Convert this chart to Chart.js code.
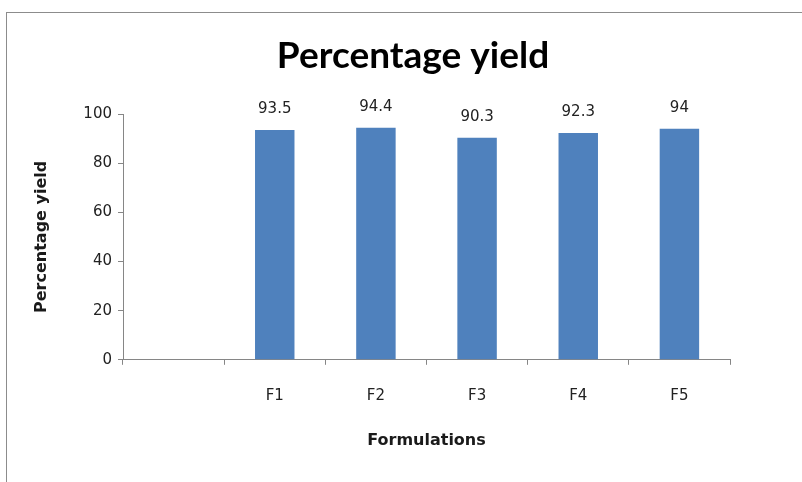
<!DOCTYPE html>
<html>
<head>
<meta charset="utf-8">
<script src="https://cdn.jsdelivr.net/npm/chart.js@4"></script>
<style>
  html, body { margin: 0; padding: 0; background: #fff; }
  #wrap { position: relative; width: 802px; height: 482px; }
  #frame {
    position: absolute; left: 6px; top: 12px; right: -2px; bottom: -2px;
    border-left: 1px solid #8c8c8c; border-top: 1px solid #8c8c8c;
  }
  canvas { position: absolute; left: 0; top: 0; }
</style>
</head>
<body>
<div id="wrap">
  <div id="frame"></div>
  <canvas id="chart" width="802" height="482"></canvas>
</div>
<script>
// Data
const categories = ["", "F1", "F2", "F3", "F4", "F5"];
const yieldValues = [null, 93.5, 94.4, 90.3, 92.3, 94];
const yTicks = [0, 20, 40, 60, 80, 100];
const chartTitle = "Percentage yield";

const C_BAR = "#4f81bd";
const C_AXIS = "#868686";
const C_TEXT = "#222";

// value labels above bars + chart title (centred on the frame, not the plot)
const barLabels = {
  id: "barLabels",
  afterDatasetsDraw(chart) {
    const ctx = chart.ctx;
    const meta = chart.getDatasetMeta(0);
    ctx.save();
    ctx.font = "15px 'DejaVu Sans'";
    ctx.fillStyle = C_TEXT;
    ctx.textAlign = "center";
    ctx.textBaseline = "bottom";
    meta.data.forEach((bar, i) => {
      const v = yieldValues[i];
      if (v == null) return;
      ctx.fillText(String(v), bar.x, bar.y - 13);
    });

    ctx.font = "bold 37px Lato";
    ctx.fillStyle = "#000";
    ctx.textBaseline = "middle";
    ctx.fillText(chartTitle, chart.width / 2 + 12, 56);
    ctx.restore();
  },
};

new Chart(document.getElementById("chart"), {
  type: "bar",
  data: {
    labels: categories,
    datasets: [
      {
        label: "Percentage yield",
        data: yieldValues,
        backgroundColor: C_BAR,
        borderWidth: 0,
        categoryPercentage: 1,
        barPercentage: 0.39,
      },
    ],
  },
  options: {
    responsive: false,
    animation: false,
    layout: { padding: { left: 28, right: 72, top: 114, bottom: 28 } },
    plugins: {
      legend: { display: false },
      tooltip: { enabled: false },
      title: { display: false },
    },
    scales: {
      x: {
        grid: {
          display: true,
          drawOnChartArea: false,
          drawTicks: true,
          tickLength: 5,
          color: C_AXIS,
          offset: true,
        },
        border: { color: C_AXIS, width: 1 },
        ticks: { color: C_TEXT, font: { family: "DejaVu Sans", size: 15 }, padding: 22 },
        title: {
          display: true,
          text: "Formulations",
          color: "#1a1a1a",
          font: { family: "DejaVu Sans", size: 16, weight: "bold" },
          padding: { top: 4 },
        },
      },
      y: {
        min: 0,
        max: 100,
        afterBuildTicks: (axis) => {
          axis.ticks = yTicks.map((v) => ({ value: v }));
        },
        afterFit: (axis) => {
          axis.width = 95;
        },
        grid: {
          display: true,
          drawOnChartArea: false,
          drawTicks: true,
          tickLength: 5,
          color: C_AXIS,
        },
        border: { color: C_AXIS, width: 1 },
        ticks: { color: C_TEXT, font: { family: "DejaVu Sans", size: 15 }, padding: 6 },
        title: {
          display: true,
          text: "Percentage yield",
          color: "#1a1a1a",
          font: { family: "DejaVu Sans", size: 16, weight: "bold" },
          padding: { bottom: 4 },
        },
      },
    },
  },
  plugins: [barLabels],
});
</script>
</body>
</html>
